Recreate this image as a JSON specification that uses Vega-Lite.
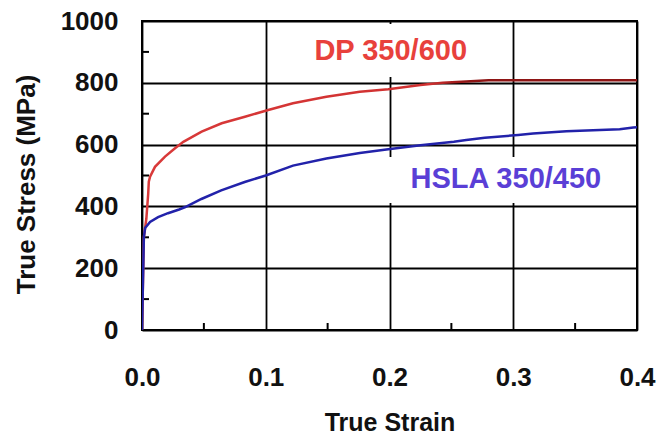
{
  "$schema": "https://vega.github.io/schema/vega-lite/v6.json",
  "width": 495,
  "height": 309,
  "autosize": {"type": "none"},
  "padding": {"left": 142, "top": 21, "right": 24, "bottom": 105},
  "background": "white",
  "config": {
    "view": {"stroke": "black", "strokeWidth": 2},
    "font": "Liberation Sans"
  },
  "datasets": {
    "curves": [
      {"series": "DP 350/600", "strain": 0, "stress": 0},
      {"series": "DP 350/600", "strain": 0.0015, "stress": 300},
      {"series": "DP 350/600", "strain": 0.0035, "stress": 360},
      {"series": "DP 350/600", "strain": 0.005, "stress": 440},
      {"series": "DP 350/600", "strain": 0.0055, "stress": 480},
      {"series": "DP 350/600", "strain": 0.0065, "stress": 496},
      {"series": "DP 350/600", "strain": 0.0105, "stress": 528},
      {"series": "DP 350/600", "strain": 0.0186, "stress": 561},
      {"series": "DP 350/600", "strain": 0.0267, "stress": 588},
      {"series": "DP 350/600", "strain": 0.0334, "stress": 609},
      {"series": "DP 350/600", "strain": 0.0482, "stress": 642},
      {"series": "DP 350/600", "strain": 0.0644, "stress": 669},
      {"series": "DP 350/600", "strain": 0.0832, "stress": 690},
      {"series": "DP 350/600", "strain": 0.102, "stress": 712},
      {"series": "DP 350/600", "strain": 0.122, "stress": 734},
      {"series": "DP 350/600", "strain": 0.149, "stress": 755},
      {"series": "DP 350/600", "strain": 0.176, "stress": 771},
      {"series": "DP 350/600", "strain": 0.199, "stress": 779},
      {"series": "DP 350/600", "strain": 0.225, "stress": 793},
      {"series": "DP 350/600", "strain": 0.243, "stress": 800},
      {"series": "DP 350/600", "strain": 0.262, "stress": 804},
      {"series": "DP 350/600", "strain": 0.28, "stress": 808},
      {"series": "DP 350/600", "strain": 0.4, "stress": 808},
      {"series": "HSLA 350/450", "strain": 0, "stress": 0},
      {"series": "HSLA 350/450", "strain": 0.0015, "stress": 300},
      {"series": "HSLA 350/450", "strain": 0.0025, "stress": 330},
      {"series": "HSLA 350/450", "strain": 0.0065, "stress": 350},
      {"series": "HSLA 350/450", "strain": 0.013, "stress": 365},
      {"series": "HSLA 350/450", "strain": 0.021, "stress": 378},
      {"series": "HSLA 350/450", "strain": 0.03, "stress": 390},
      {"series": "HSLA 350/450", "strain": 0.035, "stress": 398},
      {"series": "HSLA 350/450", "strain": 0.048, "stress": 424},
      {"series": "HSLA 350/450", "strain": 0.064, "stress": 452},
      {"series": "HSLA 350/450", "strain": 0.083, "stress": 479},
      {"series": "HSLA 350/450", "strain": 0.1, "stress": 500},
      {"series": "HSLA 350/450", "strain": 0.122, "stress": 532},
      {"series": "HSLA 350/450", "strain": 0.149, "stress": 555},
      {"series": "HSLA 350/450", "strain": 0.176, "stress": 573},
      {"series": "HSLA 350/450", "strain": 0.199, "stress": 585},
      {"series": "HSLA 350/450", "strain": 0.225, "stress": 598},
      {"series": "HSLA 350/450", "strain": 0.252, "stress": 609},
      {"series": "HSLA 350/450", "strain": 0.262, "stress": 615},
      {"series": "HSLA 350/450", "strain": 0.277, "stress": 622},
      {"series": "HSLA 350/450", "strain": 0.304, "stress": 631},
      {"series": "HSLA 350/450", "strain": 0.316, "stress": 636},
      {"series": "HSLA 350/450", "strain": 0.343, "stress": 643},
      {"series": "HSLA 350/450", "strain": 0.37, "stress": 647},
      {"series": "HSLA 350/450", "strain": 0.386, "stress": 650},
      {"series": "HSLA 350/450", "strain": 0.397, "stress": 655},
      {"series": "HSLA 350/450", "strain": 0.4, "stress": 656}
    ],
    "labels": [
      {"series": "DP 350/600", "strain": 0.201, "stress": 874, "x0": 0.128, "x1": 0.273, "y0": 819, "y1": 990},
      {"series": "HSLA 350/450", "strain": 0.294, "stress": 460, "x0": 0.19, "x1": 0.39, "y0": 411, "y1": 560}
    ],
    "xminor": [{"v": 0.05}, {"v": 0.15}, {"v": 0.25}, {"v": 0.35}],
    "yminor": [{"v": 100}, {"v": 300}, {"v": 500}, {"v": 700}, {"v": 900}]
  },
  "layer": [
    {
      "data": {"name": "labels"},
      "mark": {"type": "rect", "fill": "white", "stroke": null},
      "encoding": {
        "x": {
          "field": "x0", "type": "quantitative",
          "scale": {"domain": [0, 0.4], "nice": false, "zero": false},
          "axis": {
            "values": [0, 0.1, 0.2, 0.3, 0.4],
            "format": ".1f",
            "grid": true,
            "gridColor": "black",
            "gridWidth": 1.8,
            "gridOpacity": 1,
            "domain": false,
            "ticks": false,
            "tickSize": 0,
            "labelFlush": false,
            "labelOverlap": false,
            "labelFont": "Liberation Sans",
            "labelFontSize": 26,
            "labelFontWeight": "bold",
            "labelColor": "#111111",
            "labelPadding": 34,
            "title": "True Strain",
            "titleFont": "Liberation Sans",
            "titleFontSize": 25,
            "titleFontWeight": "bold",
            "titleColor": "#111111",
            "titleBaseline": "alphabetic",
            "titleY": 100
          }
        },
        "x2": {"field": "x1"},
        "y": {
          "field": "y0", "type": "quantitative",
          "scale": {"domain": [0, 1000], "nice": false},
          "axis": {
            "values": [0, 200, 400, 600, 800, 1000],
            "format": "d",
            "grid": true,
            "gridColor": "black",
            "gridWidth": 1.8,
            "gridOpacity": 1,
            "domain": false,
            "ticks": false,
            "tickSize": 0,
            "labelFlush": false,
            "labelOverlap": false,
            "labelFont": "Liberation Sans",
            "labelFontSize": 26,
            "labelFontWeight": "bold",
            "labelColor": "#111111",
            "labelPadding": 24,
            "title": "True Stress (MPa)",
            "titleFont": "Liberation Sans",
            "titleFontSize": 26,
            "titleFontWeight": "bold",
            "titleColor": "#111111",
            "titlePadding": 21,
            "titleY": 163
          }
        },
        "y2": {"field": "y1"}
      }
    },
    {
      "data": {"name": "xminor"},
      "mark": {"type": "tick", "orient": "vertical", "size": 14, "thickness": 2, "color": "black", "opacity": 1, "clip": true},
      "encoding": {
        "x": {"field": "v", "type": "quantitative"},
        "y": {"datum": 0, "type": "quantitative"}
      }
    },
    {
      "data": {"name": "yminor"},
      "mark": {"type": "tick", "orient": "horizontal", "size": 14, "thickness": 2, "color": "black", "opacity": 1, "clip": true},
      "encoding": {
        "y": {"field": "v", "type": "quantitative"},
        "x": {"datum": 0, "type": "quantitative"}
      }
    },
    {
      "data": {"name": "curves"},
      "transform": [{"filter": "datum.series === 'DP 350/600'"}],
      "mark": {
        "type": "line",
        "strokeWidth": 2.5,
        "clip": true,
        "stroke": {
          "gradient": "linear", "x1": 0, "y1": 0, "x2": 1, "y2": 0,
          "stops": [
            {"offset": 0, "color": "#d93a3a"},
            {"offset": 0.58, "color": "#d03030"},
            {"offset": 0.66, "color": "#8e1414"},
            {"offset": 1, "color": "#8e1414"}
          ]
        }
      },
      "encoding": {
        "x": {"field": "strain", "type": "quantitative"},
        "y": {"field": "stress", "type": "quantitative"},
        "order": {"field": "strain"}
      }
    },
    {
      "data": {"name": "curves"},
      "transform": [{"filter": "datum.series === 'HSLA 350/450'"}],
      "mark": {"type": "line", "strokeWidth": 2.5, "color": "#2222aa", "clip": true},
      "encoding": {
        "x": {"field": "strain", "type": "quantitative"},
        "y": {"field": "stress", "type": "quantitative"},
        "order": {"field": "strain"}
      }
    },
    {
      "data": {"name": "labels"},
      "mark": {"type": "text", "font": "Liberation Sans", "fontSize": 29, "fontWeight": "bold", "align": "center", "baseline": "alphabetic"},
      "encoding": {
        "x": {"field": "strain", "type": "quantitative"},
        "y": {"field": "stress", "type": "quantitative"},
        "text": {"field": "series"},
        "color": {
          "field": "series", "type": "nominal",
          "scale": {"domain": ["DP 350/600", "HSLA 350/450"], "range": ["#e8413c", "#5a3fd6"]},
          "legend": null
        }
      }
    }
  ]
}
